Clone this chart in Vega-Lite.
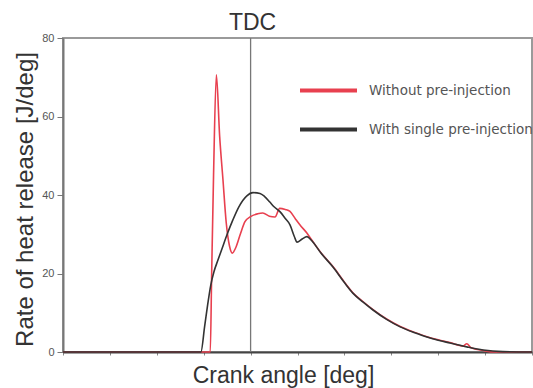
{
  "$schema": "https://vega.github.io/schema/vega-lite/v6.json",
  "width": 469,
  "height": 314,
  "autosize": "none",
  "padding": {"left": 63, "top": 38, "right": 1, "bottom": 36},
  "config": {
    "view": {"stroke": "#9a9a9a", "strokeWidth": 2},
    "font": "Liberation Sans"
  },
  "layer": [
    {
      "data": {"values": [{"angle": 0}]},
      "mark": {"type": "rule", "color": "#777777", "strokeWidth": 1.3},
      "encoding": {
        "x": {"field": "angle", "type": "quantitative", "scale": {"domain": [-40, 60], "nice": false, "zero": false}}
      }
    },
    {
      "data": {"values": [{"angle": 0, "y": 80, "label": "TDC"}]},
      "mark": {"type": "text", "fontSize": 23, "color": "#333333", "baseline": "alphabetic", "dy": -8, "dx": 2},
      "encoding": {
        "x": {"field": "angle", "type": "quantitative"},
        "y": {"field": "y", "type": "quantitative"},
        "text": {"field": "label"}
      }
    },
    {
      "data": {
        "values": [
          {"angle": -40, "hrr": 0, "series": "Without pre-injection"},
          {"angle": -8.6, "hrr": 0, "series": "Without pre-injection"},
          {"angle": -8.3, "hrr": 20, "series": "Without pre-injection"},
          {"angle": -7.9, "hrr": 45, "series": "Without pre-injection"},
          {"angle": -7.3, "hrr": 70.6, "series": "Without pre-injection"},
          {"angle": -6.6, "hrr": 55, "series": "Without pre-injection"},
          {"angle": -5.9, "hrr": 44, "series": "Without pre-injection"},
          {"angle": -5.2, "hrr": 33, "series": "Without pre-injection"},
          {"angle": -4.5, "hrr": 27, "series": "Without pre-injection"},
          {"angle": -3.9, "hrr": 25.2, "series": "Without pre-injection"},
          {"angle": -3.2, "hrr": 26.5, "series": "Without pre-injection"},
          {"angle": -2.2, "hrr": 30, "series": "Without pre-injection"},
          {"angle": -1.2, "hrr": 33.2, "series": "Without pre-injection"},
          {"angle": 0, "hrr": 34.5, "series": "Without pre-injection"},
          {"angle": 1.5, "hrr": 35.2, "series": "Without pre-injection"},
          {"angle": 2.6, "hrr": 35.4, "series": "Without pre-injection"},
          {"angle": 4, "hrr": 34.6, "series": "Without pre-injection"},
          {"angle": 5.2, "hrr": 34.4, "series": "Without pre-injection"},
          {"angle": 6.2, "hrr": 36.6, "series": "Without pre-injection"},
          {"angle": 7.4, "hrr": 36.3, "series": "Without pre-injection"},
          {"angle": 8.4, "hrr": 35.8, "series": "Without pre-injection"},
          {"angle": 9.5, "hrr": 34, "series": "Without pre-injection"},
          {"angle": 10.5, "hrr": 32.4, "series": "Without pre-injection"},
          {"angle": 12, "hrr": 30.3, "series": "Without pre-injection"},
          {"angle": 13, "hrr": 28.6, "series": "Without pre-injection"},
          {"angle": 15, "hrr": 25.3, "series": "Without pre-injection"},
          {"angle": 17.6, "hrr": 21.7, "series": "Without pre-injection"},
          {"angle": 20, "hrr": 17.8, "series": "Without pre-injection"},
          {"angle": 21.8, "hrr": 15.1, "series": "Without pre-injection"},
          {"angle": 24, "hrr": 12.8, "series": "Without pre-injection"},
          {"angle": 26.1, "hrr": 10.8, "series": "Without pre-injection"},
          {"angle": 29, "hrr": 8.4, "series": "Without pre-injection"},
          {"angle": 31.9, "hrr": 6.5, "series": "Without pre-injection"},
          {"angle": 35, "hrr": 5, "series": "Without pre-injection"},
          {"angle": 37.6, "hrr": 3.9, "series": "Without pre-injection"},
          {"angle": 40, "hrr": 3.1, "series": "Without pre-injection"},
          {"angle": 42.5, "hrr": 2.4, "series": "Without pre-injection"},
          {"angle": 45.3, "hrr": 1.5, "series": "Without pre-injection"},
          {"angle": 46.1, "hrr": 2.1, "series": "Without pre-injection"},
          {"angle": 47, "hrr": 1.1, "series": "Without pre-injection"},
          {"angle": 49.6, "hrr": 0.4, "series": "Without pre-injection"},
          {"angle": 52, "hrr": 0, "series": "Without pre-injection"},
          {"angle": 60, "hrr": 0, "series": "Without pre-injection"},
          {"angle": -40, "hrr": 0, "series": "With single pre-injection"},
          {"angle": -10.6, "hrr": 0, "series": "With single pre-injection"},
          {"angle": -9.8, "hrr": 6.5, "series": "With single pre-injection"},
          {"angle": -9.1, "hrr": 12.5, "series": "With single pre-injection"},
          {"angle": -8.5, "hrr": 17, "series": "With single pre-injection"},
          {"angle": -7.8, "hrr": 20.5, "series": "With single pre-injection"},
          {"angle": -7, "hrr": 23.3, "series": "With single pre-injection"},
          {"angle": -6.1, "hrr": 26.3, "series": "With single pre-injection"},
          {"angle": -5, "hrr": 30, "series": "With single pre-injection"},
          {"angle": -3.8, "hrr": 33.6, "series": "With single pre-injection"},
          {"angle": -2.5, "hrr": 37, "series": "With single pre-injection"},
          {"angle": -0.8, "hrr": 39.8, "series": "With single pre-injection"},
          {"angle": 0.5, "hrr": 40.6, "series": "With single pre-injection"},
          {"angle": 2, "hrr": 40.4, "series": "With single pre-injection"},
          {"angle": 3, "hrr": 39.6, "series": "With single pre-injection"},
          {"angle": 4.1, "hrr": 38.2, "series": "With single pre-injection"},
          {"angle": 5, "hrr": 37, "series": "With single pre-injection"},
          {"angle": 6.3, "hrr": 35.7, "series": "With single pre-injection"},
          {"angle": 7.4, "hrr": 34, "series": "With single pre-injection"},
          {"angle": 8.4, "hrr": 32.4, "series": "With single pre-injection"},
          {"angle": 9.3, "hrr": 29.5, "series": "With single pre-injection"},
          {"angle": 9.9, "hrr": 28, "series": "With single pre-injection"},
          {"angle": 11, "hrr": 28.8, "series": "With single pre-injection"},
          {"angle": 12, "hrr": 29.4, "series": "With single pre-injection"},
          {"angle": 13, "hrr": 28.4, "series": "With single pre-injection"},
          {"angle": 15, "hrr": 25.2, "series": "With single pre-injection"},
          {"angle": 17.6, "hrr": 21.6, "series": "With single pre-injection"},
          {"angle": 20, "hrr": 17.7, "series": "With single pre-injection"},
          {"angle": 21.8, "hrr": 15, "series": "With single pre-injection"},
          {"angle": 24, "hrr": 12.7, "series": "With single pre-injection"},
          {"angle": 26.1, "hrr": 10.7, "series": "With single pre-injection"},
          {"angle": 29, "hrr": 8.3, "series": "With single pre-injection"},
          {"angle": 31.9, "hrr": 6.4, "series": "With single pre-injection"},
          {"angle": 35, "hrr": 4.9, "series": "With single pre-injection"},
          {"angle": 37.6, "hrr": 3.8, "series": "With single pre-injection"},
          {"angle": 40, "hrr": 3, "series": "With single pre-injection"},
          {"angle": 42.5, "hrr": 2.3, "series": "With single pre-injection"},
          {"angle": 46.1, "hrr": 1.3, "series": "With single pre-injection"},
          {"angle": 49.6, "hrr": 0.5, "series": "With single pre-injection"},
          {"angle": 53.8, "hrr": 0.1, "series": "With single pre-injection"},
          {"angle": 60, "hrr": 0, "series": "With single pre-injection"}
        ]
      },
      "mark": {"type": "line", "strokeWidth": 1.6, "interpolate": "monotone"},
      "encoding": {
        "x": {
          "field": "angle",
          "type": "quantitative",
          "axis": {
            "title": "Crank angle [deg]",
            "titleFontSize": 23,
            "titleFontWeight": "normal",
            "titleColor": "#333333",
            "titleBaseline": "alphabetic",
            "titleX": 220,
            "titleY": 30,
            "labels": false,
            "grid": false,
            "domainColor": "#444444",
            "domainWidth": 2,
            "tickColor": "#888888",
            "tickSize": 3,
            "tickCount": 10
          }
        },
        "y": {
          "field": "hrr",
          "type": "quantitative",
          "scale": {"domain": [0, 80], "nice": false},
          "axis": {
            "title": "Rate of heat release [J/deg]",
            "titleFontSize": 24,
            "titleFontWeight": "normal",
            "titleColor": "#333333",
            "titleBaseline": "alphabetic",
            "titleX": -31,
            "titleY": 161,
            "values": [0, 20, 40, 60, 80],
            "labelFontSize": 11,
            "labelColor": "#555555",
            "labelPadding": 3,
            "tickSize": 6,
            "tickColor": "#777777",
            "domainColor": "#777777",
            "domainWidth": 2,
            "grid": false
          }
        },
        "color": {
          "field": "series",
          "type": "nominal",
          "scale": {
            "domain": ["Without pre-injection", "With single pre-injection"],
            "range": ["#e8404f", "#333333"]
          },
          "legend": {
            "title": null,
            "orient": "none",
            "legendX": 235,
            "legendY": 22,
            "padding": 0,
            "symbolType": "stroke",
            "symbolSize": 3249,
            "symbolStrokeWidth": 4,
            "rowPadding": -17,
            "labelFont": "DejaVu Sans",
            "labelFontSize": 13.5,
            "labelColor": "#555555",
            "labelOffset": 10,
            "labelLimit": 300
          }
        }
      }
    }
  ]
}
